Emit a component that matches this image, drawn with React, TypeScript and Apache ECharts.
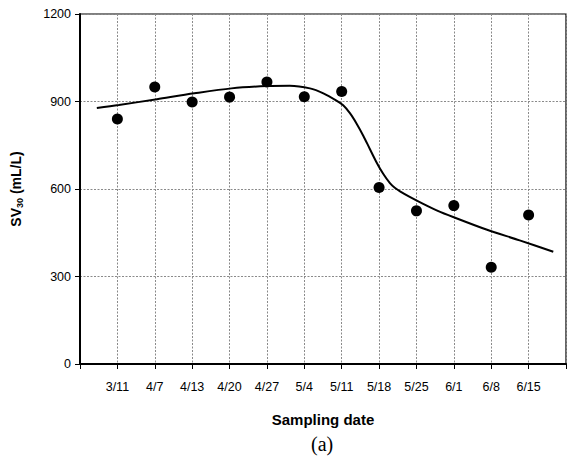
import React, { useEffect, useRef } from "react";
import * as echarts from "echarts";

const categories = ["3/11", "4/7", "4/13", "4/20", "4/27", "5/4", "5/11", "5/18", "5/25", "6/1", "6/8", "6/15"];
const sv30Values = [840, 950, 898, 915, 967, 916, 934, 605, 525, 543, 332, 511];
const fitX = [0.45, 1.04, 2.06, 3.06, 4.05, 5.0, 5.61, 6.15, 6.51, 6.86, 7.04, 7.22, 7.4, 7.58, 7.75, 7.93, 8.11, 8.29, 8.42, 8.56, 8.82, 9.18, 9.54, 9.98, 10.87, 11.76, 12.66];
const fitY = [878, 888, 908, 928, 945, 953, 954, 945, 928, 903, 887, 860, 824, 782, 738, 692, 652, 620, 604, 592, 573, 549, 527, 504, 461, 424, 385];
const yTicks = [0, 300, 600, 900, 1200];

export default function App() {
  const ref = useRef<HTMLDivElement>(null);
  useEffect(() => {
    if (!ref.current) return;
    const chart = echarts.init(ref.current, undefined, { renderer: "svg" });
    const font = "Liberation Sans, Arial, sans-serif";
    chart.setOption({
      animation: false,
      grid: { left: 80, top: 14, right: 2, bottom: 102, show: true, borderColor: "#000", borderWidth: 1.2 },
      xAxis: {
        type: "value",
        min: 0,
        max: 13,
        interval: 1,
        name: "Sampling date",
        nameLocation: "middle",
        nameGap: 48,
        nameTextStyle: { fontFamily: font, fontWeight: "bold", fontSize: 15, color: "#000" },
        axisLine: { show: true, lineStyle: { color: "#000", width: 2 } },
        axisTick: { show: true, length: 5, lineStyle: { color: "#000" } },
        axisLabel: {
          margin: 16,
          fontFamily: font,
          fontSize: 12.5,
          color: "#000",
          formatter: (v: number) => categories[v - 1] ?? "",
        },
        splitLine: { show: true, lineStyle: { color: "#8a8a8a", type: [2, 1.5], width: 1 } },
      },
      yAxis: {
        type: "value",
        min: yTicks[0],
        max: yTicks[yTicks.length - 1],
        interval: 300,
        name: "{b|SV}{s|30}{b| (mL/L)}",
        nameLocation: "middle",
        nameGap: 56,
        nameRotate: 90,
        nameTextStyle: {
          rich: {
            b: { fontFamily: font, fontWeight: "bold", fontSize: 14, color: "#000" },
            s: { fontFamily: font, fontWeight: "bold", fontSize: 9, color: "#000", padding: [8, 0, 0, 0] },
          },
        },
        axisLine: { show: true, lineStyle: { color: "#000", width: 2 } },
        axisTick: { show: true, length: 5, lineStyle: { color: "#000" } },
        axisLabel: { margin: 9, fontFamily: font, fontSize: 12.5, color: "#000", formatter: (v: number) => String(v) },
        splitLine: { show: true, lineStyle: { color: "#8a8a8a", type: [2, 1.5], width: 1 } },
      },
      graphic: [
        {
          type: "text",
          left: 311,
          top: 434,
          style: { text: "(a)", fontFamily: "Liberation Serif, Times New Roman, serif", fontSize: 20, fill: "#000" },
        },
      ],
      series: [
        {
          type: "line",
          data: fitX.map((x, i) => [x, fitY[i]]),
          smooth: 0.3,
          symbol: "none",
          lineStyle: { color: "#000", width: 2 },
          z: 3,
        },
        {
          type: "scatter",
          data: sv30Values.map((v, i) => [i + 1, v]),
          symbol: "circle",
          symbolSize: 11,
          itemStyle: { color: "#000", opacity: 1 },
          z: 4,
        },
      ],
    });
    return () => chart.dispose();
  }, []);
  return <div ref={ref} style={{ width: 569, height: 466, position: "absolute", left: 0, top: 0, background: "#fff" }} />;
}
